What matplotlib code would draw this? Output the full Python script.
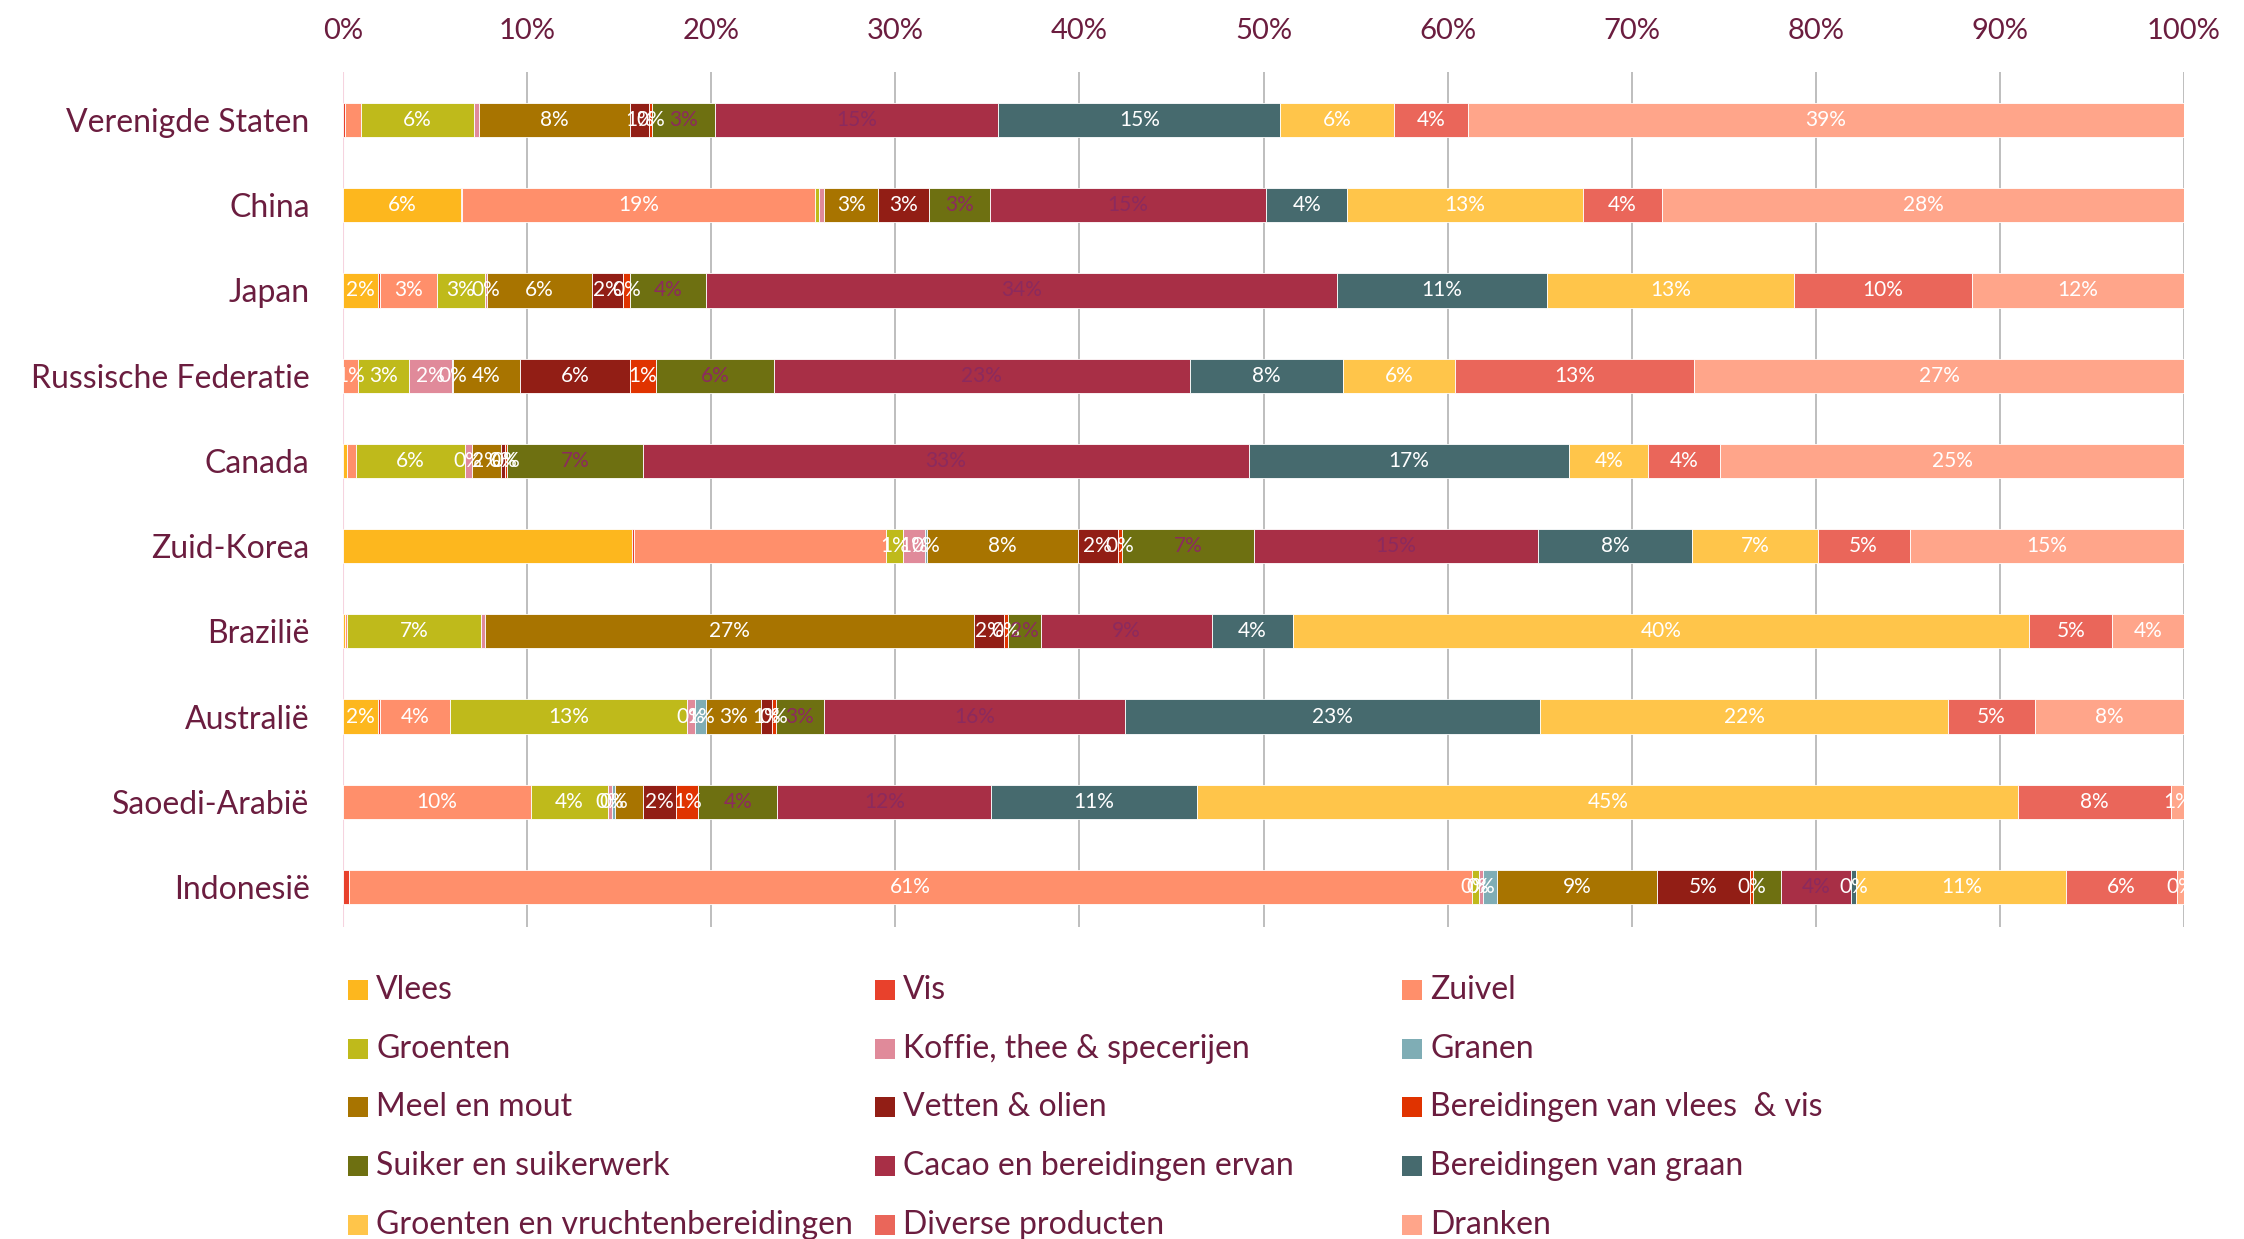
import numpy as np
import matplotlib
matplotlib.use("Agg")
import matplotlib.pyplot as plt
from matplotlib.patches import Rectangle

plt.rcParams['font.family'] = ['Lato', 'DejaVu Sans']

countries = ["Verenigde Staten", "China", "Japan", "Russische Federatie", "Canada",
             "Zuid-Korea", "Brazilië", "Australië", "Saoedi-Arabië", "Indonesië"]

categories = ["Vlees", "Vis", "Zuivel", "Groenten", "Koffie, thee & specerijen", "Granen",
              "Meel en mout", "Vetten & olien", "Bereidingen van vlees  & vis",
              "Suiker en suikerwerk", "Cacao en bereidingen ervan", "Bereidingen van graan",
              "Groenten en vruchtenbereidingen", "Diverse producten", "Dranken"]

colors = ["#FDB71E", "#E8412C", "#FF8F6B", "#BFBA1B", "#E08A9A", "#7FADB5",
          "#A87400", "#921E15", "#E03300", "#6E7011", "#A82F46", "#466A6E",
          "#FFC54A", "#EA665A", "#FFA58A"]

# values in % per country, in category order
verenigde_staten = [0.0, 0.1, 0.9, 6.1, 0.3, 0.0, 8.2, 1.0, 0.2, 3.4, 15.4, 15.3, 6.2, 4.0, 38.9]
china            = [6.4, 0.05, 19.2, 0.2, 0.3, 0.0, 2.9, 2.8, 0.0, 3.3, 15.0, 4.4, 12.8, 4.3, 28.35]
japan            = [1.9, 0.1, 3.1, 2.6, 0.1, 0.0, 5.7, 1.7, 0.4, 4.1, 34.3, 11.4, 13.4, 9.7, 11.5]
rusland          = [0.0, 0.0, 0.8, 2.8, 2.3, 0.1, 3.6, 6.0, 1.4, 6.4, 22.6, 8.3, 6.1, 13.0, 26.6]
canada           = [0.2, 0.0, 0.5, 5.9, 0.4, 0.0, 1.6, 0.2, 0.1, 7.4, 32.9, 17.4, 4.3, 3.9, 25.2]
zuid_korea       = [15.7, 0.1, 13.7, 0.9, 1.2, 0.1, 8.2, 2.2, 0.2, 7.2, 15.4, 8.4, 6.8, 5.0, 14.9]
brazilie         = [0.1, 0.0, 0.1, 7.3, 0.2, 0.0, 26.6, 1.6, 0.2, 1.8, 9.3, 4.4, 40.0, 4.5, 3.9]
australie        = [1.9, 0.1, 3.8, 12.9, 0.4, 0.6, 3.0, 0.6, 0.2, 2.6, 16.4, 22.5, 22.2, 4.7, 8.1]
saoedi_arabie    = [0.0, 0.0, 10.2, 4.2, 0.2, 0.2, 1.5, 1.8, 1.2, 4.3, 11.6, 11.2, 44.6, 8.3, 0.7]
indonesie        = [0.0, 0.3, 61.0, 0.4, 0.2, 0.8, 8.7, 5.0, 0.2, 1.5, 3.8, 0.3, 11.4, 6.0, 0.4]

data = np.array([verenigde_staten, china, japan, rusland, canada,
                 zuid_korea, brazilie, australie, saoedi_arabie, indonesie])

# data labels that are not shown in the original (country index, category index)
hidden_labels = {(0, 1), (0, 2), (0, 4), (1, 1), (1, 3), (1, 4), (2, 1),
                 (4, 0), (4, 2), (5, 0), (5, 1), (5, 2), (6, 0), (6, 2), (6, 4),
                 (7, 1), (8, 6), (9, 1), (9, 5), (9, 9)}
dark_label_cats = {9, 10}

text_col = "#6B1D3F"
W, H = 2244, 1239
fig = plt.figure(figsize=(W / 100, H / 100), dpi=100)
ax_left, ax_right, ax_top, ax_bot = 343, 2184, 71.5, 927
ax = fig.add_axes([ax_left / W, 1 - ax_bot / H, (ax_right - ax_left) / W, (ax_bot - ax_top) / H])

y = np.arange(len(countries))
cum = np.zeros(len(countries))
for j, cat in enumerate(categories):
    vals = data[:, j]
    ax.barh(y, vals, left=cum, height=0.4, color=colors[j], edgecolor="white",
            linewidth=0.6, zorder=3)
    for i, v in enumerate(vals):
        if v <= 0 or (i, j) in hidden_labels:
            continue
        lab = f"{int(v + 0.5)}%"
        c = "#8C2A5E" if j in dark_label_cats else "white"
        ax.text(cum[i] + v / 2, i, lab, ha="center", va="center", fontsize=15,
                color=c, zorder=4, clip_on=True)
    cum += vals

ax.set_xlim(0, 100)
ax.set_ylim(9.47, -0.57)
ax.set_xticks(np.arange(0, 101, 10))
ax.set_xticklabels([f"{t}%" for t in range(0, 101, 10)])
ax.xaxis.tick_top()
ax.set_yticks(y)
ax.set_yticklabels(countries)
ax.tick_params(axis="x", length=0, pad=20, labelsize=21, labelcolor=text_col)
ax.tick_params(axis="y", length=0, pad=24, labelsize=23, labelcolor=text_col)
for s in ax.spines.values():
    s.set_visible(False)
ax.grid(axis="x", color="#B3B3B3", linewidth=1.2, zorder=0)
ax.set_axisbelow(True)
ax.axvline(0, color="#F6D3DF", linewidth=1.5, zorder=1)

# legend, three columns filled row by row
col_x = [348, 875, 1402]
row_y0, row_dy = 990, 58.7
sq = 20
for k, cat in enumerate(categories):
    r, c = divmod(k, 3)
    x0 = col_x[c]
    yc = row_y0 + r * row_dy
    fig.patches.append(Rectangle((x0 / W, 1 - (yc + sq / 2) / H), sq / W, sq / H,
                                 transform=fig.transFigure, facecolor=colors[k],
                                 edgecolor="none"))
    fig.text((x0 + 28) / W, 1 - yc / H, cat, ha="left", va="center",
             fontsize=23, color=text_col)

fig.savefig("out.png", dpi=100, facecolor="white")
